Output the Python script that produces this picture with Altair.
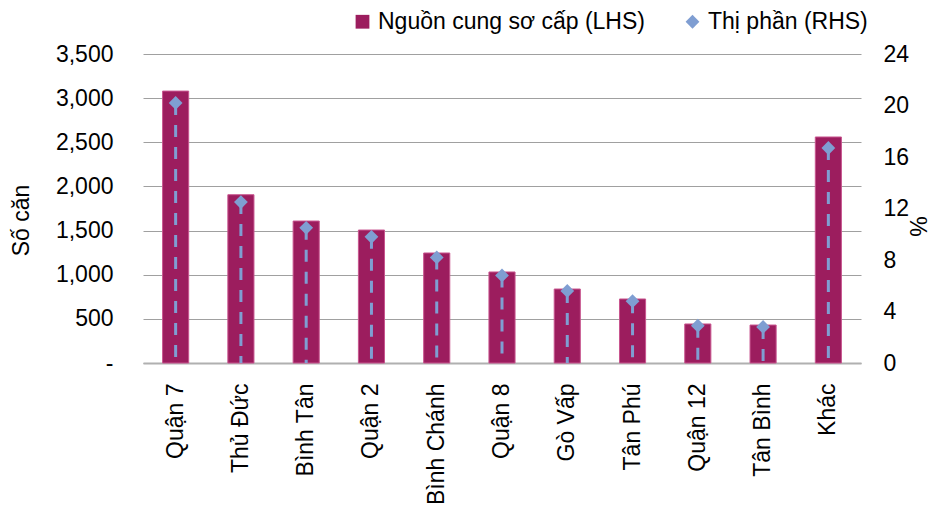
import altair as alt
import pandas as pd

districts = ["Quận 7", "Thủ Đức", "Bình Tân", "Quận 2", "Bình Chánh", "Quận 8",
             "Gò Vấp", "Tân Phú", "Quận 12", "Tân Bình", "Khác"]
supply = [3080, 1906, 1608, 1506, 1246, 1031, 838, 725, 442, 430, 2560]
share = [20.2, 12.5, 10.5, 9.8, 8.2, 6.8, 5.6, 4.8, 2.9, 2.8, 16.7]
series = ["Nguồn cung sơ cấp (LHS)", "Thị phần (RHS)"]
left_ticks = [0, 500, 1000, 1500, 2000, 2500, 3000, 3500]
right_ticks = [0, 4, 8, 12, 16, 20, 24]

MAROON = "#9C1D5E"
BLUE = "#7F9ED2"
FONT = "Liberation Sans"

df = pd.DataFrame({"district": districts, "supply": supply, "share": share,
                   "s1": series[0], "s2": series[1]})

x_axis = alt.Axis(labelAngle=-90, labelFontSize=23, labelFont=FONT,
                  labelColor="black", labelPadding=20, ticks=False, tickSize=0,
                  domain=True, domainColor="#B0B0B0", domainWidth=2, grid=False)
x_scale = alt.Scale(paddingInner=0.6, paddingOuter=0.3)

right_axis = alt.Axis(orient="right", values=right_ticks, grid=False, ticks=False,
                      tickSize=0, domain=False, labelFontSize=23, labelFont=FONT,
                      labelColor="black", labelPadding=22, titleFontSize=23,
                      titleFont=FONT, titleFontWeight="normal", titleColor="black",
                      titleX=55, titleY=172, titleAlign="center",
                      titleBaseline="middle")
right_scale = alt.Scale(domain=[0, 24], nice=False)

color_scale = alt.Scale(domain=series, range=[MAROON, BLUE])
shape_scale = alt.Scale(domain=series, range=["square", "diamond"])

bars = alt.Chart(df).mark_bar(stroke="#C8558F", strokeWidth=1).encode(
    x=alt.X("district:N", sort=districts, title=None, scale=x_scale, axis=x_axis),
    y=alt.Y("supply:Q", title="Số căn",
            scale=alt.Scale(domain=[0, 3500], nice=False),
            axis=alt.Axis(values=left_ticks, grid=True, gridColor="#A0A0A0", gridWidth=1,
                          ticks=False, tickSize=0, domain=False, labelFontSize=23,
                          labelFont=FONT, labelColor="black", labelPadding=30,
                          labelExpr="datum.value == 0 ? '-\u00a0\u00a0' : format(datum.value, ',')",
                          titleFontSize=23, titleFont=FONT, titleFontWeight="normal",
                          titleColor="black", titleX=-122, titleY=166,
                          titleAlign="center", titleBaseline="middle")),
    color=alt.Color("s1:N", scale=color_scale, title=None,
                    legend=alt.Legend(orient="none", legendX=208, legendY=-44,
                                      direction="horizontal", labelFontSize=23,
                                      labelFont=FONT, labelColor="black", labelLimit=0,
                                      symbolSize=190, symbolStrokeWidth=0,
                                      columnPadding=36, labelOffset=4)),
)

rules = alt.Chart(df).mark_rule(color=BLUE, strokeWidth=3, strokeDash=[12, 10]).encode(
    x=alt.X("district:N", sort=districts, title=None, scale=x_scale, axis=x_axis),
    y=alt.Y("share:Q", title="%", scale=right_scale, axis=right_axis),
    y2=alt.datum(0),
)

points = alt.Chart(df).mark_point(filled=True, size=190, opacity=1).encode(
    x=alt.X("district:N", sort=districts, title=None, scale=x_scale, axis=x_axis),
    y=alt.Y("share:Q", title="%", scale=right_scale, axis=right_axis),
    color=alt.Color("s2:N", scale=color_scale, title=None),
    shape=alt.Shape("s2:N", scale=shape_scale, title=None),
)

right = alt.layer(rules, points)

chart = alt.layer(bars, right).resolve_scale(y="independent").properties(
    width=718, height=309,
    autosize=alt.AutoSizeParams(type="none"),
    padding={"left": 135, "top": 46, "right": 69, "bottom": 150},
).configure(font=FONT, background="white").configure_view(
    stroke="transparent", strokeWidth=0)

chart.save("out.html", embed_options={"renderer": "svg", "actions": False})
